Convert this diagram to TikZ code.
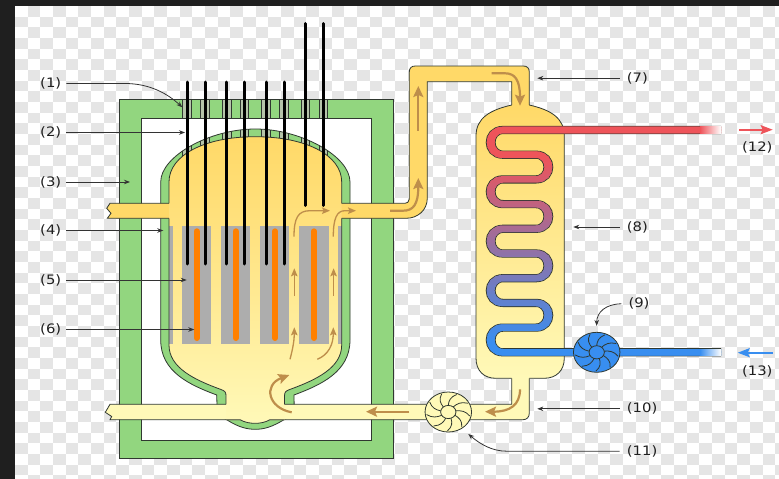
\documentclass[tikz,border=0pt]{standalone}
\usepackage{fontspec}
\setmainfont{DejaVu Sans}
\usetikzlibrary{arrows.meta,shapes.geometric}
\definecolor{grn}{RGB}{146,214,127}
\definecolor{edge}{RGB}{48,56,48}
\definecolor{brn}{RGB}{190,142,75}
\definecolor{hot}{RGB}{238,84,90}
\definecolor{cold}{RGB}{56,142,240}
\definecolor{yt}{RGB}{255,217,104}
\definecolor{ym}{RGB}{255,226,128}
\definecolor{yb}{RGB}{255,249,184}
\definecolor{pen}{RGB}{182,196,170}
\definecolor{fuelg}{RGB}{173,173,173}
\definecolor{rodo}{RGB}{255,128,0}
\pgfdeclareverticalshading{vesselfill}{100bp}{color(0bp)=(yb); color(25bp)=(yb); color(58bp)=(ym); color(75bp)=(yt); color(100bp)=(yt)}
\pgfdeclareverticalshading{sgfill}{100bp}{color(0bp)=(yb); color(25bp)=(yb); color(75bp)=(yt); color(100bp)=(yt)}
\tikzset{
  outl/.style={draw=edge,line width=0.8pt},
  lab/.style={font=\fontsize{13}{15}\selectfont,text=black!88,inner sep=0pt,anchor=west,xscale=1.14,transform shape},
  lead/.style={draw=black!80,line width=0.8pt,-{Stealth[length=6pt,width=4.5pt]}},
  flowbig/.style={draw=brn,line width=2.2pt,-{Stealth[length=11pt,width=10pt,inset=2pt]}},
  flowsmall/.style={draw=brn,line width=1.3pt,-{Stealth[length=8pt,width=6.5pt,inset=1.5pt]}},
  rod/.style={draw=black,line width=3pt,line cap=round},
  pump/.style={ellipse,draw=edge,line width=0.8pt,inner sep=0pt,minimum width=46.5pt,minimum height=40pt},
  blade/.style={draw=edge,line width=0.8pt,line cap=round},
}
\def\outerv{(160.7,182) .. controls (160.7,156) and (210,129) .. (255.3,129) .. controls (300.6,129) and (350,156) .. (350,182) -- (350,340) .. controls (350,372) and (320.6,385) .. (294,395) -- (294.3,415) -- (284,419.7) .. controls (272,427) and (264,429.3) .. (255.3,429.3) .. controls (246.6,429.3) and (238,427) .. (226.7,419.7) -- (217.3,415) -- (216.7,395) .. controls (190,385) and (160.7,372) .. (160.7,340) -- cycle}
\def\coil{(721,130) -- (503,130) .. controls (486.53,130) and (486.53,154.7) .. (503,154.7) -- (536,154.7) .. controls (552.47,154.7) and (552.47,179.4) .. (536,179.4) -- (503,179.4) .. controls (486.53,179.4) and (486.53,204.1) .. (503,204.1) -- (536,204.1) .. controls (552.47,204.1) and (552.47,228.8) .. (536,228.8) -- (503,228.8) .. controls (486.53,228.8) and (486.53,253.5) .. (503,253.5) -- (536,253.5) .. controls (552.47,253.5) and (552.47,278.2) .. (536,278.2) -- (503,278.2) .. controls (486.53,278.2) and (486.53,302.9) .. (503,302.9) -- (536,302.9) .. controls (552.47,302.9) and (552.47,327.6) .. (536,327.6) -- (503,327.6) .. controls (486.53,327.6) and (486.53,352.3) .. (503,352.3) -- (721,352.3)}
\begin{document}
\begin{tikzpicture}[x=1pt,y=-1pt]
\useasboundingbox (0,0) rectangle (779,479);
% backdrop
\fill[white] (0,0) rectangle (779,479);
\begin{scope}
\clip (15,6) rectangle (779,479);
\foreach \c in {0,...,60}{\foreach \r in {0,...,44}{
  \ifodd\numexpr\c+\r\relax
    \fill[black!10] ({15+\c*12.67},{6+\r*10.67}) rectangle ({15+(\c+1)*12.67},{6+(\r+1)*10.67});
  \fi}}
\end{scope}
\fill[black!88] (0,0) rectangle (779,6);
\fill[black!88] (0,0) rectangle (15,479);
% containment
\fill[grn,outl,even odd rule] (119.5,99.5) rectangle (393.5,458.7) (141.7,118.3) rectangle (371.3,440.3);
\fill[white,outl] (141.7,118.3) rectangle (371.3,440.3);
\foreach \x in {187,205,226.7,244.3,266,284,305.3,323.3}{
  \fill[pen,outl,line width=0.6pt] (\x-4.3,99.5) rectangle (\x+4.3,118.3);
}
% vessel wall
\fill[grn] \outerv;
\begin{scope}
\clip \outerv;
\foreach \x in {187,205,226.7,244.3,266,284,305.3,323.3}{
  \fill[pen,outl,line width=0.6pt] (\x-4.3,110) rectangle (\x+4.3,182);
}
\end{scope}
\draw[outl] \outerv;
% pipes
\fill[yt,outl] (110,203.3) -- (106.7,208.3) -- (111,213.3) -- (107.3,218.3) -- (406,218.3) .. controls (418,218.3) and (427.3,210) .. (427.3,198) -- (427.3,81.7) -- (511.7,81.7) -- (511.7,110) -- (529.3,110) -- (529.3,72) .. controls (529.3,68) and (527,66) .. (523.3,66) -- (415.3,66) .. controls (411.5,66) and (409.3,68) .. (409.3,72) -- (409.3,199) .. controls (409.3,202) and (407,203.3) .. (405,203.3) -- cycle;
\fill[yb,outl] (110,404.3) -- (105.3,412.3) -- (111.7,416.5) -- (110,419.7) -- (523,419.7) .. controls (527,419.7) and (529.3,417) .. (529.3,413) -- (529.3,372) -- (511.7,372) -- (511.7,404.3) -- cycle;
% vessel interior
\shade[shading=vesselfill] (169,182) .. controls (169,155) and (205,136.7) .. (255.3,136.7) .. controls (305.6,136.7) and (341.7,155) .. (341.7,182) -- (341.7,345) .. controls (341.7,368) and (315.7,380) .. (289.7,389.5) .. controls (285.7,391) and (284.5,392) .. (284.5,396) -- (284.5,420) -- (270,420) .. controls (265,422.5) and (260,423.3) .. (255.3,423.3) .. controls (250,423.3) and (245,422.5) .. (240,420) -- (226,420) -- (226,396) .. controls (226,392) and (225,391) .. (221,389.5) .. controls (195,380) and (169,368) .. (169,345) -- cycle;
% fuel
\fill[fuelg] (169,225.7) rectangle (172.7,344);
\fill[fuelg] (338.3,225.7) rectangle (341.7,344);
\foreach \a/\b in {181.7/211.3,221/250.3,260/289.3,299/328.7}{
  \fill[fuelg] (\a,225.7) rectangle (\b,344);
}
\foreach \x in {196.7,235.7,275,314}{
  \draw[rodo,line width=6pt,line cap=round] (\x,231.3) -- (\x,338);
}
% vessel interior outline
\draw[outl] (169,203.3) -- (169,182) .. controls (169,155) and (205,136.7) .. (255.3,136.7) .. controls (305.6,136.7) and (341.7,155) .. (341.7,182) -- (341.7,203.3);
\draw[outl] (169,218.3) -- (169,345) .. controls (169,368) and (195,380) .. (221,389.5) .. controls (225,391) and (226,392) .. (226,396) -- (226,404.3);
\draw[outl] (341.7,218.3) -- (341.7,345) .. controls (341.7,368) and (315.7,380) .. (289.7,389.5) .. controls (285.7,391) and (284.5,392) .. (284.5,396) -- (284.5,404.3);
\draw[outl] (226,419.7) -- (240,419.7) .. controls (245,422.5) and (250,423.3) .. (255.3,423.3) .. controls (260,423.3) and (265,422.5) .. (270,419.7) -- (284.5,419.7);
% control rods
\foreach \x in {187,205,226.7,244.3,266,284}{
  \draw[rod] (\x,82) -- (\x,264);
}
\foreach \x in {305.3,323.3}{
  \draw[rod] (\x,23.5) -- (\x,205.5);
}
% steam generator
\shade[shading=sgfill] (476,136) .. controls (476,118) and (490,110) .. (511.7,105) -- (529.3,105) .. controls (551,110) and (564.3,118) .. (564.3,136) -- (564.3,358) .. controls (564.3,371) and (556,378.3) .. (544,378.3) -- (496,378.3) .. controls (484,378.3) and (476,371) .. (476,358) -- cycle;
\draw[outl] (511.7,105) .. controls (490,110) and (476,118) .. (476,136) -- (476,358) .. controls (476,371) and (484,378.3) .. (496,378.3) -- (511.7,378.3);
\draw[outl] (529.3,105) .. controls (551,110) and (564.3,118) .. (564.3,136) -- (564.3,358) .. controls (564.3,371) and (556,378.3) .. (544,378.3) -- (529.3,378.3);
% coil (stretched sideways like the whole picture, so its stroke is wider on the vertical runs)
\begin{scope}[transform canvas={xscale=1.19},x=0.84034pt]
\draw[edge,line width=8.2pt] \coil;
\foreach \i in {0,...,80}{
  \pgfmathtruncatemacro\mixv{max(0,min(100,(120+3*\i-155)/185*100))}
  \begin{scope}
    \clip (470,{120+3*\i}) rectangle (725,{124+3*\i});
    \draw[cold!\mixv!hot,line width=6.6pt] \coil;
  \end{scope}
}
\end{scope}
\shade[left color=hot,right color=white] (700,126.7) rectangle (721,133.3);
\shade[left color=cold,right color=white] (700,349) rectangle (721,355.6);
% pumps
\node[pump,fill=cold] (pump9) at (596.7,352.3) {};
\node[pump,fill=yb] (pump11) at (448.3,412) {};
\foreach \cx/\cy in {596.7/352.3,448.3/412}{
  \begin{scope}[shift={(\cx,\cy)},x=1.16pt,y=1pt]
    \foreach \a in {10,50,...,330}{
      \draw[blade] (\a:6.8) .. controls ({\a-2}:11) and ({\a-6}:15) .. ({\a-22}:18.8);
    }
    \draw[outl] (0,0) ellipse [x radius=6.6,y radius=6.6];
  \end{scope}
}
% flow arrows
\draw[flowbig] (418.3,130.7) -- (418.3,86);
\draw[flowbig] (390,210.7) -- (403,210.7) .. controls (413,210.7) and (418.3,205) .. (418.3,178);
\draw[flowbig] (491.7,73.3) -- (505,73.3) .. controls (515,73.3) and (520,80) .. (520,105.7);
\draw[flowbig] (409.3,411.7) -- (366,411.7);
\draw[flowbig] (520,389.3) .. controls (520,405) and (510,411.7) .. (485,411.7);
\draw[flowbig] (291.7,412.3) .. controls (268,408) and (263,385) .. (289.3,375);
\draw[flowsmall] (294,236.7) .. controls (294,218) and (298,210.7) .. (310,210.7) -- (330,210.7);
\draw[flowsmall] (333.3,236.7) .. controls (333.3,218) and (337,210.7) .. (345,210.7) -- (356,210.7);
\draw[flowsmall] (294.3,296) -- (294.3,268.3);
\draw[flowsmall] (333.6,296) -- (333.6,268.3);
\draw[flowsmall] (290,359.3) .. controls (293,348) and (294.3,340) .. (294.3,327.3);
\draw[flowsmall] (317.3,359.3) .. controls (328,355) and (333.3,345) .. (333.3,327.3);
% labels
\node[lab] (l1) at (40,83.5) {(1)};
\node[lab] (l2) at (40,132.5) {(2)};
\node[lab] (l3) at (40,182) {(3)};
\node[lab] (l4) at (40,230.5) {(4)};
\node[lab] (l5) at (40,280) {(5)};
\node[lab] (l6) at (40,329.5) {(6)};
\node[lab] (l7) at (626.7,78.2) {(7)};
\node[lab] (l8) at (626.7,227) {(8)};
\node[lab] (l9) at (628.3,303.8) {(9)};
\node[lab] (l10) at (626.7,408.8) {(10)};
\node[lab] (l11) at (626.7,451.2) {(11)};
\node[lab,anchor=center] (l12) at (757.3,147.8) {(12)};
\node[lab,anchor=center] (l13) at (757.3,371.5) {(13)};
% leader targets
\coordinate (t1) at (182.3,107.3);
\coordinate (t2) at (185,132);
\coordinate (t3) at (130,181.5);
\coordinate (t4) at (163.3,230);
\coordinate (t5) at (186.7,279.5);
\coordinate (t6) at (194.3,329);
\coordinate (t7) at (537.3,78);
\coordinate (t8) at (573.3,227);
\coordinate (t10) at (537.3,408.7);
\coordinate (t11) at (468.3,434);
\draw[lead] ([xshift=5pt]l1.east) -- (125,83.5) .. controls (150,83.5) and (168,94) .. (t1);
\foreach \n in {2,3,4,5,6}{
  \draw[lead] ([xshift=5pt]l\n.east) -- (l\n.east -| t\n);
}
\draw[lead] ([xshift=-7pt]l7.west) -- (l7.west -| t7);
\draw[lead] ([xshift=-7pt]l8.west) -- (l8.west -| t8);
\draw[lead] ([xshift=-7pt]l10.west) -- (l10.west -| t10);
\draw[lead] ([xshift=-7pt]l11.west) -- (506.7,451.2) .. controls (492,451.2) and (480,444) .. (t11);
\draw[lead,shorten >=6pt] ([xshift=-7pt]l9.west) .. controls (606,304) and (596.7,312) .. (pump9.north);
% circuit direction arrows
\coordinate (r1) at (739.3,129.7);
\coordinate (r2) at (772.7,129.7);
\coordinate (b1) at (772.7,352.7);
\coordinate (b2) at (737.7,352.7);
\draw[hot,line width=2pt,-{Stealth[length=12pt,width=9pt,inset=2pt]}] (r1) -- (r2);
\draw[cold,line width=2pt,-{Stealth[length=12pt,width=9pt,inset=2pt]}] (b1) -- (b2);
\end{tikzpicture}
\end{document}
